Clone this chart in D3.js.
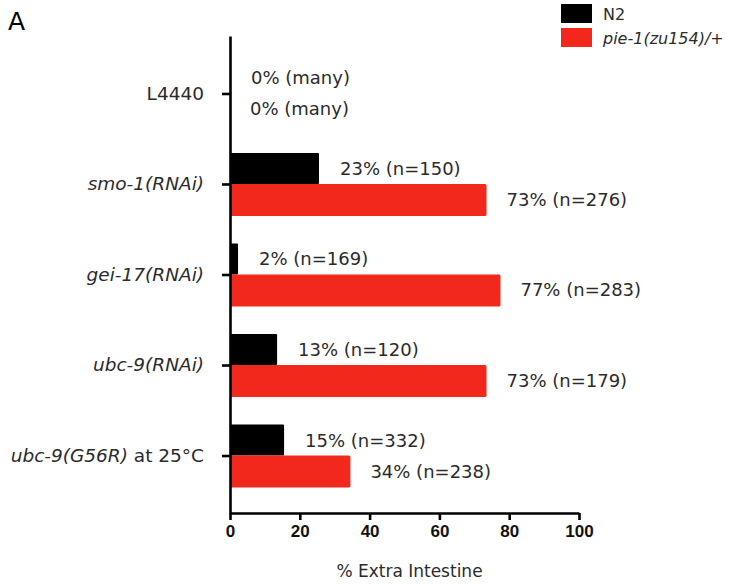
<!DOCTYPE html>
<html lang="en">
<head>
<meta charset="UTF-8">
<title>% Extra Intestine</title>
<script src="https://d3js.org/d3.v7.min.js"></script>
<style>
  body { margin: 0; background: #fff; }
  svg text { font-family: "DejaVu Sans", sans-serif; fill: #2b2b2b; }
  .cat text { font-style: italic; font-size: 18.5px; }
  .xaxis text { font-family: "Liberation Sans", Arial, sans-serif; font-weight: bold; font-size: 17px; fill: #111; }
  .val { font-size: 18px; }
</style>
</head>
<body>
<div id="chart"></div>
<script>

// categories, top to bottom
var categories = ["L4440", "smo-1(RNAi)", "gei-17(RNAi)", "ubc-9(RNAi)", "ubc-9(G56R) at 25°C"];

// bar lengths (% extra intestine)
var n2Values  = [0, 25.5, 2.3, 13.5, 15.5];
var pieValues = [0, 73.5, 77.5, 73.5, 34.5];

// printed labels
var n2Labels  = ["0% (many)", "23% (n=150)", "2% (n=169)", "13% (n=120)", "15% (n=332)"];
var pieLabels = ["0% (many)", "73% (n=276)", "77% (n=283)", "73% (n=179)", "34% (n=238)"];

var xTicks = [0, 20, 40, 60, 80, 100];

var width = 739, height = 584;
var black = "#000", red = "#f2281d";
var barH = 31;

var svg = d3.select("#chart").append("svg")
    .attr("width", width)
    .attr("height", height);

var x = d3.scaleLinear().domain([0, 100]).range([230, 579]);
var y = d3.scalePoint().domain(categories).range([36, 513]).padding(0.635);

// bars
var g = svg.append("g");
g.selectAll(".n2").data(categories).join("rect")
    .attr("class", "n2")
    .attr("x", x(0))
    .attr("y", function(d) { return y(d) - barH; })
    .attr("width", function(d, i) { return x(n2Values[i]) - x(0); })
    .attr("height", barH)
    .attr("rx", 1)
    .attr("fill", black);

g.selectAll(".pie").data(categories).join("rect")
    .attr("class", "pie")
    .attr("x", x(0))
    .attr("y", function(d) { return y(d); })
    .attr("width", function(d, i) { return x(pieValues[i]) - x(0); })
    .attr("height", barH + 1)
    .attr("rx", 1.5)
    .attr("fill", red);

// value labels
g.selectAll(".n2lab").data(categories).join("text")
    .attr("class", "val")
    .attr("x", function(d, i) { return x(n2Values[i]) + 21; })
    .attr("y", function(d) { return y(d) - barH / 2; })
    .attr("dy", "0.36em")
    .text(function(d, i) { return n2Labels[i]; });

g.selectAll(".pielab").data(categories).join("text")
    .attr("class", "val")
    .attr("x", function(d, i) { return x(pieValues[i]) + 20; })
    .attr("y", function(d) { return y(d) + barH / 2; })
    .attr("dy", "0.36em")
    .text(function(d, i) { return pieLabels[i]; });

// axes
var yAxis = svg.append("g")
    .attr("class", "cat")
    .attr("transform", "translate(" + x(0) + ",0)")
    .call(d3.axisLeft(y).tickSize(8).tickSizeOuter(0).tickPadding(18));

var xAxis = svg.append("g")
    .attr("class", "xaxis")
    .attr("transform", "translate(0," + 513 + ")")
    .call(d3.axisBottom(x).tickValues(xTicks).tickSize(7).tickSizeOuter(0).tickPadding(5));

svg.selectAll(".domain, .tick line")
    .attr("stroke", "#000")
    .attr("stroke-width", 2.6);

// "at 25°C" is upright, gene name italic
yAxis.selectAll(".tick text").each(function(d) {
  var t = d3.select(this);
  var m = d.match(/^(.*\))( at .*)$/);
  if (m) {
    t.text(null);
    t.append("tspan").text(m[1]);
    t.append("tspan").style("font-style", "normal").text(m[2]);
  }
});
yAxis.select(".tick text").style("font-style", "normal");

// axis title
svg.append("text")
    .attr("x", (x(0) + x(100)) / 2 + 5)
    .attr("y", 577)
    .attr("text-anchor", "middle")
    .style("font-size", "17px")
    .text("% Extra Intestine");

// panel letter
svg.append("text")
    .attr("x", 8)
    .attr("y", 30)
    .style("font-size", "25px")
    .style("fill", "#000")
    .text("A");

// legend
var legend = svg.append("g").attr("transform", "translate(561,4)");
var series = [{name: "N2", color: black, italic: false}, {name: "pie-1(zu154)/+", color: red, italic: true}];
var li = legend.selectAll("g").data(series).join("g")
    .attr("transform", function(d, i) { return "translate(0," + (i * 24) + ")"; });
li.append("rect")
    .attr("width", 31)
    .attr("height", 19)
    .attr("fill", function(d) { return d.color; });
li.append("text")
    .attr("x", 42)
    .attr("y", 10)
    .attr("dy", "0.36em")
    .style("font-size", "16px")
    .style("font-style", function(d) { return d.italic ? "italic" : "normal"; })
    .text(function(d) { return d.name; });

</script>
</body>
</html>
